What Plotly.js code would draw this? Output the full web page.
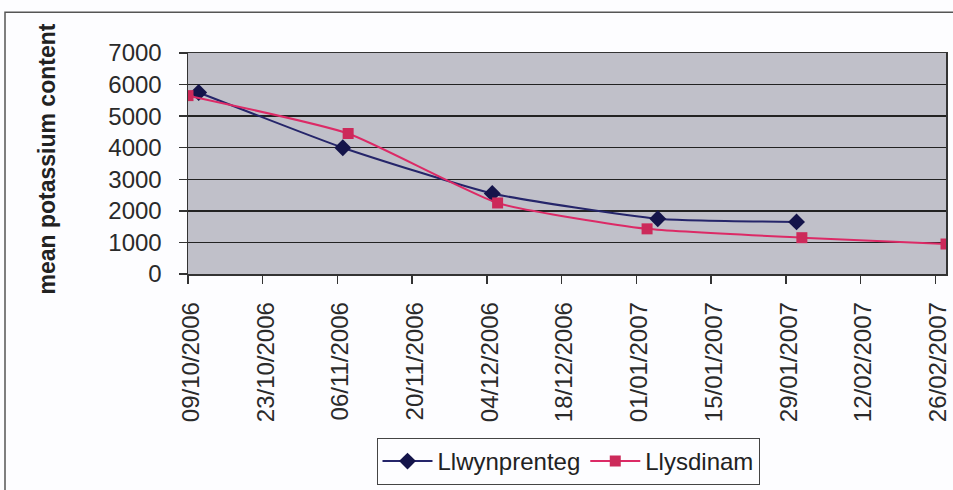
<!DOCTYPE html>
<html>
<head>
<meta charset="utf-8">
<script src="https://cdn.plot.ly/plotly-3.0.1.min.js"></script>
<style>html,body{margin:0;padding:0;background:#fdfdff;}</style>
</head>
<body>
<div id="chart" style="width:953px;height:490px;"></div>
<script>
// Data
const llwynDates = ['2006-10-11', '2006-11-07', '2006-12-05', '2007-01-05', '2007-01-31'];
const llwynValues = [5750, 4000, 2550, 1750, 1650];
const llysDates = ['2006-10-09', '2006-11-08', '2006-12-06', '2007-01-03', '2007-02-01', '2007-02-28'];
const llysValues = [5650, 4450, 2250, 1430, 1150, 950];
const seriesNames = ['Llwynprenteg', 'Llysdinam'];
const yTitle = 'mean potassium content';

const FONT = '"Liberation Sans", Arial, sans-serif';

// pixel helpers for plot area (l=188, r=946, t=53, b=275)
const L = 188, R = 946, T = 53, B = 275;
const px = x => (x - L) / (R - L);
const py = y => (B - y) / (B - T);

const traces = [
  {
    x: llwynDates, y: llwynValues, name: seriesNames[0],
    type: 'scatter', mode: 'lines+markers',
    line: {color: '#25256a', width: 2, shape: 'spline', smoothing: 0.5},
    marker: {symbol: 'diamond', size: 13, color: '#14144a'}
  },
  {
    x: llysDates, y: llysValues, name: seriesNames[1],
    type: 'scatter', mode: 'lines+markers',
    line: {color: '#dc2a66', width: 2, shape: 'spline', smoothing: 0.5},
    marker: {symbol: 'square', size: 11, color: '#cc2a5a'}
  }
];

const layout = {
  width: 953, height: 490,
  margin: {l: L, r: 953 - R, t: T, b: 490 - B, pad: 0},
  paper_bgcolor: '#fdfdff',
  plot_bgcolor: '#c0c0c9',
  font: {family: FONT, color: '#2a2a2a', size: 24},
  showlegend: true,
  legend: {
    orientation: 'h', x: px(568), xanchor: 'center', y: py(438), yanchor: 'top',
    bgcolor: '#fdfdff', bordercolor: '#444', borderwidth: 1,
    font: {family: FONT, size: 24, color: '#222'},
    itemwidth: 50, tracegroupgap: 0
  },
  xaxis: {
    type: 'date',
    range: ['2006-10-09', '2007-02-28'],
    tick0: '2006-10-09', dtick: 14 * 86400000,
    tickformat: '%d/%m/%Y', tickangle: -90,
    ticks: 'outside', ticklen: 8, tickcolor: '#333', tickwidth: 1.5,
    ticklabelstandoff: 9, ticklabelshift: 3,
    tickfont: {family: FONT, size: 24, color: '#2a2a2a'},
    showgrid: false, zeroline: false,
    showline: true, linecolor: '#333', linewidth: 1.5, mirror: true
  },
  yaxis: {
    range: [0, 7000], dtick: 1000, tick0: 0,
    ticks: 'outside', ticklen: 8, tickcolor: '#333', tickwidth: 1.5,
    ticklabelstandoff: 12,
    tickfont: {family: FONT, size: 24, color: '#2a2a2a'},
    showgrid: true, gridcolor: '#222', gridwidth: 1.3,
    zeroline: false,
    showline: true, linecolor: '#333', linewidth: 1.5, mirror: true
  },
  annotations: [{
    text: '<b>' + yTitle + '</b>', textangle: -90,
    xref: 'paper', yref: 'paper', x: px(47), y: py(160),
    xanchor: 'center', yanchor: 'middle', showarrow: false,
    font: {family: FONT, size: 23, color: '#222'}
  }],
  shapes: [{
    type: 'rect', xref: 'paper', yref: 'paper',
    x0: px(5), x1: px(975), y0: py(510), y1: py(12),
    line: {color: '#555', width: 1.5}, layer: 'below'
  }]
};

Plotly.newPlot('chart', traces, layout, {staticPlot: true, displayModeBar: false});
</script>
</body>
</html>
